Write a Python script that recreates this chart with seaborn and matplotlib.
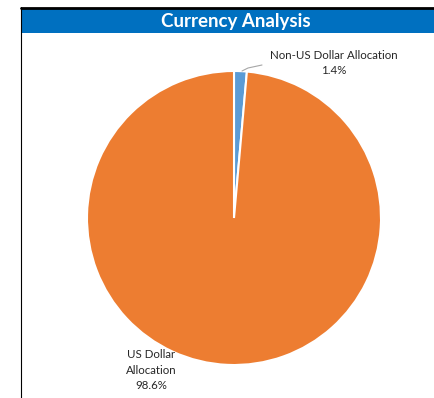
import matplotlib
matplotlib.use("Agg")
import matplotlib.pyplot as plt
from matplotlib.patches import Rectangle
from matplotlib.lines import Line2D
import seaborn as sns

categories = ["Non-US Dollar Allocation", "US Dollar Allocation"]
shares = [1.4, 98.6]
colors = ["#5B9BD5", "#ED7D31"]
title = "Currency Analysis"

sns.set_theme(style="white")
plt.rcParams["font.family"] = ["Lato", "DejaVu Sans"]

W, H = 434, 398
fig = plt.figure(figsize=(W / 100, H / 100), dpi=100)
fig.patch.set_facecolor("white")

# pie area: centre (234, 218) px, radius 147 px
cx, cy, r = 234, 218, 147
ax = fig.add_axes([(cx - r) / W, (H - cy - r) / H, 2 * r / W, 2 * r / H])
ax.pie(shares, colors=colors, startangle=90, counterclock=False,
       radius=1.0, wedgeprops=dict(edgecolor="white", linewidth=1.5))
ax.set_xlim(-1, 1)
ax.set_ylim(-1, 1)
ax.set_aspect("equal")
ax.axis("off")

# header bar
fig.add_artist(Rectangle((22 / W, (H - 33) / H), 1 - 22 / W, 25 / H,
                         transform=fig.transFigure, facecolor="#0070C0",
                         edgecolor="none"))
fig.add_artist(Line2D([21 / W, 1], [(H - 7.5) / H] * 2, transform=fig.transFigure,
                      color="black", linewidth=2))
fig.add_artist(Line2D([21 / W] * 2, [0, (H - 7) / H], transform=fig.transFigure,
                      color="black", linewidth=0.8))
fig.text(236 / W, (H - 21) / H, title, ha="center", va="center",
         color="white", fontsize=13.5, fontweight="bold")

# data labels
fig.text(334 / W, (H - 63) / H, f"{categories[0]}\n{shares[0]:.1f}%",
         ha="center", va="center", fontsize=8.3, color="#262626",
         linespacing=1.45)
fig.text(151 / W, (H - 370) / H, "US Dollar\nAllocation\n" + f"{shares[1]:.1f}%",
         ha="center", va="center", fontsize=8.3, color="#262626",
         linespacing=1.45)
fig.add_artist(Line2D([242 / W, 248 / W, 262 / W],
                      [(H - 71) / H, (H - 68) / H, (H - 65) / H],
                      transform=fig.transFigure, color="#A6A6A6", linewidth=0.8))

fig.savefig("out.png", dpi=100)
